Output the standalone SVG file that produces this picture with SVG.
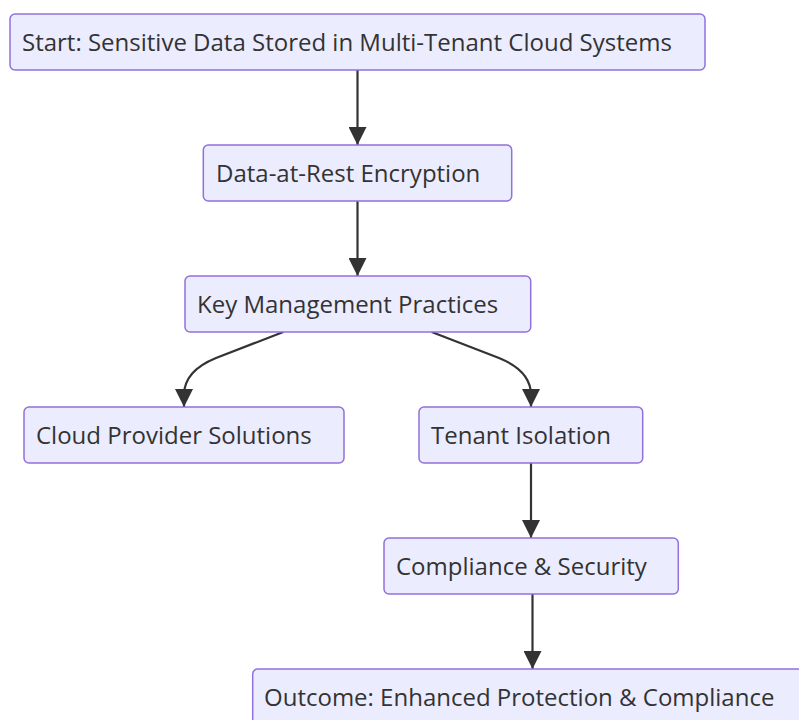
<svg xmlns="http://www.w3.org/2000/svg" width="799" height="720" viewBox="0 0 799 720">
  <style>
    .node rect { fill: #ECECFF; stroke: #9370DB; stroke-width: 1.5; }
    .node text { fill: #333333; font-family: "Open Sans", "Noto Sans", sans-serif; font-size: 24px; }
    .edge { fill: none; stroke: #333333; stroke-width: 2.2; }
  </style>
  <defs>
    <marker id="arrow" viewBox="0 0 10 10" refX="10" refY="5" markerUnits="userSpaceOnUse" markerWidth="19" markerHeight="18" orient="auto">
      <path d="M0,0 L10,5 L0,10 z" fill="#333333"/>
    </marker>
  </defs>
  <rect width="799" height="720" fill="#ffffff"/>

  <g id="edges">
    <path class="edge" d="M357.5,70 L357.5,145" marker-end="url(#arrow)"/>
    <path class="edge" d="M357.5,201 L357.5,276" marker-end="url(#arrow)"/>
    <path class="edge" d="M283.3,332 L216,358 Q184,371 184,395 L184,407" marker-end="url(#arrow)"/>
    <path class="edge" d="M431.7,332 L499,358 Q531,371 531,395 L531,407" marker-end="url(#arrow)"/>
    <path class="edge" d="M531,463 L531,538" marker-end="url(#arrow)"/>
    <path class="edge" d="M532.5,594 L532.5,669" marker-end="url(#arrow)"/>
  </g>

  <g id="start" class="node">
    <rect x="10" y="14" width="695" height="56" rx="5"/>
    <text x="22" y="51">Start: Sensitive Data Stored in Multi-Tenant Cloud Systems</text>
  </g>
  <g id="encryption" class="node">
    <rect x="203.3" y="145" width="308.4" height="56" rx="5"/>
    <text x="216" y="182">Data-at-Rest Encryption</text>
  </g>
  <g id="keymgmt" class="node">
    <rect x="185" y="276" width="345.7" height="56" rx="5"/>
    <text x="197" y="313">Key Management Practices</text>
  </g>
  <g id="provider" class="node">
    <rect x="24" y="407" width="320" height="56" rx="5"/>
    <text x="36" y="444">Cloud Provider Solutions</text>
  </g>
  <g id="isolation" class="node">
    <rect x="419" y="407" width="223.7" height="56" rx="5"/>
    <text x="431" y="444">Tenant Isolation</text>
  </g>
  <g id="compliance" class="node">
    <rect x="384" y="538" width="294.3" height="56" rx="5"/>
    <text x="396" y="575">Compliance &amp; Security</text>
  </g>
  <g id="outcome" class="node">
    <rect x="252.7" y="669" width="560" height="56" rx="5"/>
    <text x="264" y="706">Outcome: Enhanced Protection &amp; Compliance</text>
  </g>
</svg>
